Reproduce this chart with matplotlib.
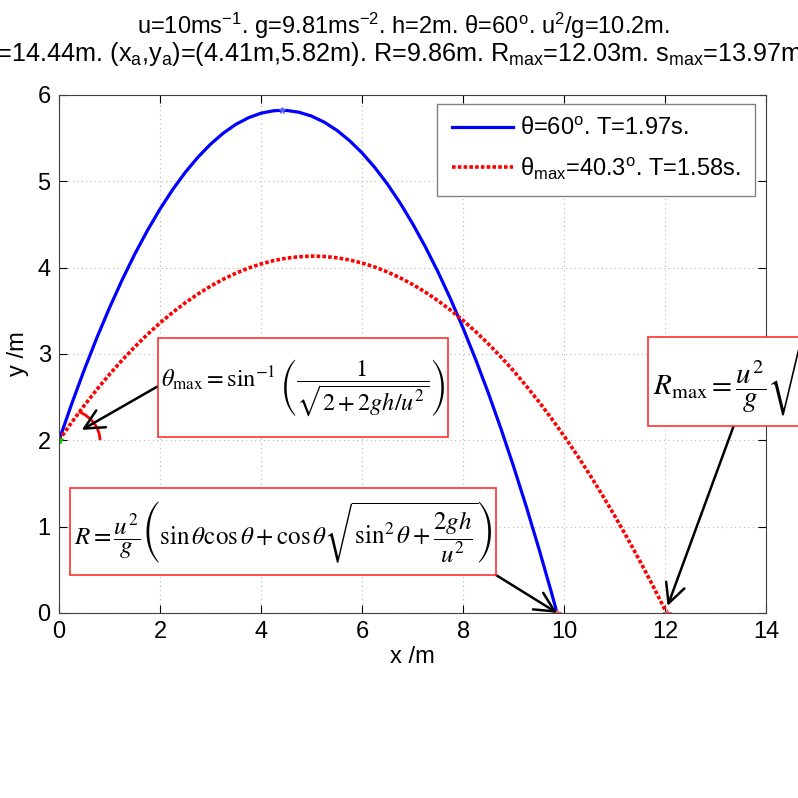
import numpy as np
import matplotlib
matplotlib.use("Agg")
import matplotlib.pyplot as plt
from matplotlib.patches import Rectangle, Arc

plt.rcParams['font.family'] = ['Liberation Sans', 'DejaVu Sans']
plt.rcParams['mathtext.fontset'] = 'custom'
plt.rcParams['mathtext.rm'] = 'Liberation Sans'
plt.rcParams['mathtext.it'] = 'Liberation Sans:italic'
plt.rcParams['mathtext.bf'] = 'Liberation Sans:bold'

# trajectory (theta = 60 deg)
x_blue = [0, 0.25, 0.5, 0.75, 1, 1.25, 1.5, 1.75, 2, 2.25, 2.5, 2.75, 3, 3.25, 3.5, 3.75,
          4, 4.25, 4.41, 4.5, 4.75, 5, 5.25, 5.5, 5.75, 6, 6.25, 6.5, 6.75, 7, 7.25, 7.5,
          7.75, 8, 8.25, 8.5, 8.75, 9, 9.25, 9.5, 9.75, 9.86]
y_blue = [2, 2.421, 2.817, 3.189, 3.536, 3.858, 4.157, 4.430, 4.679, 4.904, 5.104, 5.279,
          5.430, 5.557, 5.659, 5.736, 5.789, 5.817, 5.822, 5.821, 5.800, 5.755, 5.685, 5.591,
          5.472, 5.329, 5.161, 4.969, 4.752, 4.510, 4.244, 3.954, 3.639, 3.299, 2.935, 2.547,
          2.134, 1.696, 1.234, 0.747, 0.236, 0]

# trajectory for theta_max = 40.3 deg
x_red = [0, 0.25, 0.5, 0.75, 1, 1.25, 1.5, 1.75, 2, 2.25, 2.5, 2.75, 3, 3.25, 3.5, 3.75,
         4, 4.25, 4.5, 4.75, 5, 5.25, 5.5, 5.75, 6, 6.25, 6.5, 6.75, 7, 7.25, 7.5, 7.75,
         8, 8.25, 8.5, 8.75, 9, 9.25, 9.5, 9.75, 10, 10.25, 10.5, 10.75, 11, 11.25, 11.5,
         11.75, 12.03]
y_red = [2, 2.207, 2.403, 2.589, 2.764, 2.928, 3.082, 3.226, 3.359, 3.481, 3.593, 3.694,
         3.785, 3.865, 3.935, 3.994, 4.043, 4.081, 4.109, 4.126, 4.133, 4.129, 4.114, 4.089,
         4.053, 4.007, 3.950, 3.883, 3.805, 3.717, 3.618, 3.508, 3.388, 3.258, 3.117, 2.965,
         2.803, 2.630, 2.447, 2.253, 2.049, 1.834, 1.609, 1.373, 1.126, 0.869, 0.602, 0.324, 0]

apex = (4.41, 5.82)
launch = (0, 2)
R_land = 9.86
Rmax_land = 12.03
theta_max = 40.3

title1 = 'u=10ms$^{-1}$. g=9.81ms$^{-2}$. h=2m. θ=60$^{\\rm o}$. u$^2$/g=10.2m.'
title2 = ('s=14.44m. (x$_{\\rm a}$,y$_{\\rm a}$)=(4.41m,5.82m). R=9.86m. '
          'R$_{\\rm max}$=12.03m. s$_{\\rm max}$=13.97m.')
lab_blue = 'θ=60$^{\\rm o}$. T=1.97s.'
lab_red = 'θ$_{\\rm max}$=40.3$^{\\rm o}$. T=1.58s.'

f_thmax = r'$\theta_{\rm max} = \sin^{-1}\left(\dfrac{1}{\sqrt{2+2gh/u^2}}\right)$'
f_R = (r'$R=\dfrac{u^2}{g}\left(\sin\theta\cos\theta+\cos\theta'
       r'\sqrt{\sin^2\theta+\dfrac{2gh}{u^2}}\right)$')
f_Rmax = r'$R_{\rm max}=\dfrac{u^2}{g}\sqrt{1+\dfrac{2gh}{u^2}}$'

fig = plt.figure(figsize=(7.98, 7.98), dpi=100)
ax = fig.add_axes([0.074, 0.232, 0.886, 0.649])

ax.plot(x_blue, y_blue, color='#0000ff', lw=2.3, label=lab_blue)
ax.plot(x_red, y_red, color='#ff0000', lw=2.6, dashes=(1.0, 0.6), label=lab_red)
ax.plot(*apex, marker='*', color='#6060ff', ms=5, mew=0.8)
ax.plot(*launch, marker='*', color='#00dd00', ms=6, mew=0.8)
ax.plot([R_land, Rmax_land], [0, 0], ls='none', marker='*', color='#ff6060', ms=6, mew=0.8)

ax.add_patch(Arc(launch, 1.62, 0.76, theta1=0, theta2=theta_max, color='#ff0000', lw=2))

ax.set_xlim(0, 14)
ax.set_ylim(0, 6)
ax.set_xticks(np.arange(0, 15, 2))
ax.set_yticks(np.arange(0, 7, 1))
ax.grid(True, ls=(0, (1, 3)), color='#b8b8b8', lw=0.8)
ax.tick_params(direction='in', length=6, top=True, right=True, labelsize=17, pad=6)
for sp in ax.spines.values():
    sp.set_color('#404040')
ax.set_xlabel('x /m', fontsize=17, labelpad=2)
ax.set_ylabel('y /m', fontsize=17, labelpad=6)

leg = ax.legend(loc='upper right', bbox_to_anchor=(0.984, 0.983), borderaxespad=0,
                fontsize=17, fancybox=False, framealpha=1, edgecolor='#808080',
                handlelength=2.6, handletextpad=0.3, borderpad=0.6, labelspacing=0.65)
leg.get_frame().set_linewidth(1)

fig.text(0.505, 0.9574, title1, ha='center', va='baseline', fontsize=17)
fig.text(0.497, 0.9236, title2, ha='center', va='baseline', fontsize=18.2)

# formula boxes (figure fraction)
boxes = [(0.198, 0.452, 0.363, 0.125), (0.088, 0.279, 0.534, 0.109), (0.812, 0.466, 0.5, 0.1115)]
for (bx, by, bw, bh) in boxes:
    fig.add_artist(Rectangle((bx, by), bw, bh, transform=fig.transFigure, fc='white',
                             ec='#ff3030', lw=1.2, zorder=5))
fig.text(0.198 + 0.363 / 2, 0.452 + 0.125 / 2, f_thmax, ha='center', va='center',
         fontsize=17.5, math_fontfamily='stix', zorder=6)
fig.text(0.088 + 0.534 / 2, 0.279 + 0.109 / 2, f_R, ha='center', va='center',
         fontsize=18, math_fontfamily='stix', zorder=6)
fig.text(0.818, 0.466 + 0.1115 / 2, f_Rmax, ha='left', va='center',
         fontsize=21, math_fontfamily='stix', zorder=6)

arrow = dict(arrowstyle='->,head_length=0.7,head_width=0.35', color='black', lw=1.8,
             mutation_scale=20, shrinkA=0, shrinkB=0)
ax.annotate('', xy=(0.45, 2.12), xycoords='data', xytext=(0.2005, 0.5175),
            textcoords='figure fraction', arrowprops=arrow)
ax.annotate('', xy=(R_land, 0), xycoords='data', xytext=(0.6216, 0.2794),
            textcoords='figure fraction', arrowprops=arrow)
ax.annotate('', xy=(12.05, 0.08), xycoords='data', xytext=(0.9198, 0.4674),
            textcoords='figure fraction', arrowprops=arrow)

fig.savefig('out.png', dpi=100)
